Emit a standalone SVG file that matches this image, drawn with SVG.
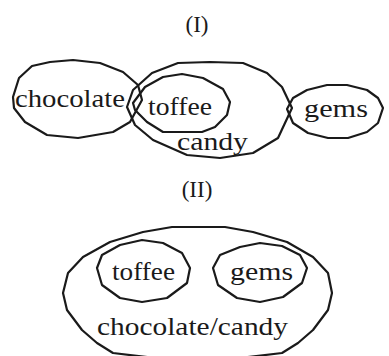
<svg xmlns="http://www.w3.org/2000/svg" width="389" height="356" viewBox="0 0 389 356">
<style>
.s{fill:none;stroke:#1a1a1a;stroke-width:2.2;stroke-linejoin:round}
.t{font-family:"Liberation Serif","Times New Roman",serif;font-size:25px;fill:#1a1a1a}
.h{font-family:"Liberation Serif","Times New Roman",serif;font-size:23px;fill:#1a1a1a;text-anchor:middle}
</style>
<rect width="389" height="356" fill="#fff"/>
<text class="h" x="197" y="32">(I)</text>
<g id="candy1">
<polygon class="s" points="127,107 133,90 152,73 178,63 210,62 243,63 267,73 282,87 292,108 278,138 253,153 220,158 187,155 153,140 135,125"/>
<text class="t" x="177" y="150" textLength="71" lengthAdjust="spacingAndGlyphs">candy</text>
</g>
<g id="chocolate1">
<polygon class="s" points="13,97 19,78 32,66 50,62 73,60 100,63 123,72 138,85 142,100 130,122 113,132 78,138 47,135 25,122 14,108"/>
<text class="t" x="15" y="107" textLength="110" lengthAdjust="spacingAndGlyphs">chocolate</text>
</g>
<g id="toffee1">
<polygon class="s" points="133,103 145,87 163,77 182,74 203,78 223,89 230,102 227,115 215,127 202,132 163,132 147,122 135,110"/>
<text class="t" x="148" y="115" textLength="64" lengthAdjust="spacingAndGlyphs">toffee</text>
</g>
<g id="gems1">
<polygon class="s" points="287,109 293,98 307,90 327,85 347,85 367,90 378,98 383,108 378,123 367,132 348,138 328,138 308,133 293,123"/>
<text class="t" x="304" y="117" textLength="64" lengthAdjust="spacingAndGlyphs">gems</text>
</g>
<text class="h" x="197" y="197">(II)</text>
<g id="chocolatecandy2">
<polygon class="s" points="172,227 225,227 253,232 287,242 313,257 328,273 332,293 328,310 313,330 298,343 282,353 240,358 155,358 113,353 97,343 82,330 67,310 63,293 68,273 83,257 110,242 143,232"/>
<text class="t" x="97" y="335" textLength="191" lengthAdjust="spacingAndGlyphs">chocolate/candy</text>
</g>
<g id="toffee2">
<polygon class="s" points="97,268 102,255 120,245 142,240 163,243 182,253 190,268 187,283 167,298 142,302 120,298 102,285"/>
<text class="t" x="112" y="280" textLength="63" lengthAdjust="spacingAndGlyphs">toffee</text>
</g>
<g id="gems2">
<polygon class="s" points="213,268 220,255 240,247 260,243 282,246 300,255 307,268 302,283 283,297 260,302 237,298 218,285"/>
<text class="t" x="230" y="280" textLength="63" lengthAdjust="spacingAndGlyphs">gems</text>
</g>
<g id="connectors"/>
</svg>
